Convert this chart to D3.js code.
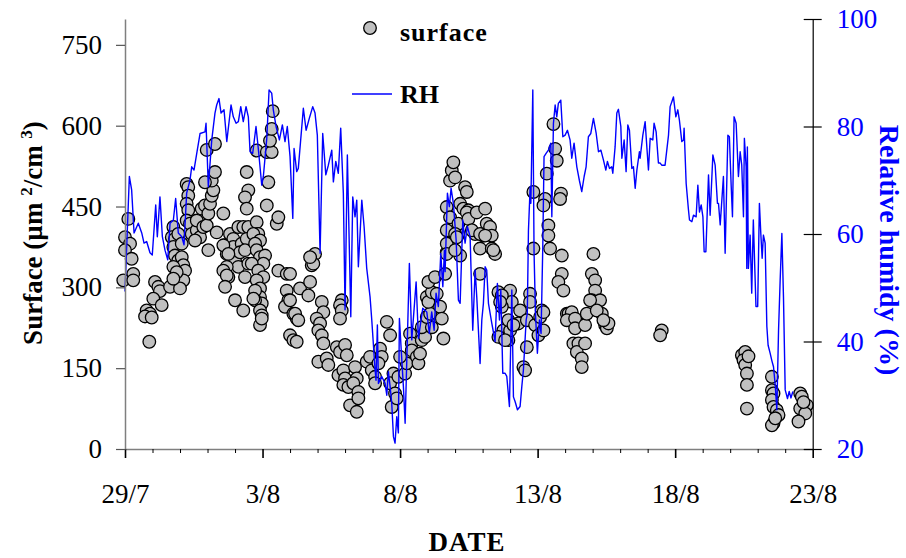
<!DOCTYPE html>
<html>
<head>
<meta charset="utf-8">
<script src="https://cdnjs.cloudflare.com/ajax/libs/d3/7.8.5/d3.min.js"></script>
<style>
  body { margin: 0; background: #fff; }
  svg { font-family: "Liberation Serif", "Times New Roman", serif; }
</style>
</head>
<body>
<svg width="906" height="558"></svg>
<script>
// hours after 29/7 00:00, surface area (um2/cm3)
var surfacePoints = [
  [2.9,427],[0,393],[4.4,381],[0,369],[5.8,353],[-1.5,313],[7.2,325],[7.2,313],
  [26.2,310],[29.1,301],[30.5,293],[24.7,279],[32.0,267],[18.9,257],[21.8,251],[17.5,246],[23.3,244],[21.2,199],
  [39.3,301],[42.2,412],[40.8,393],[43.6,390],[42.2,375],[46.5,399],[43.6,359],[46.5,350],[49.5,356],[50.9,341],
  [48.0,325],[52.4,331],[50.9,313],[48.0,298],[42.2,338],[45.1,328],[42.2,316],[49.5,381],
  [53.8,492],[55.2,486],[55.2,470],[53.8,455],[55.2,443],[53.8,424],[56.7,418],[58.2,399],[62.6,406],[65.5,393],
  [61.1,387],[62.6,424],[66.9,446],[69.8,452],[68.3,412],[71.3,415],[72.7,437],[74.2,455],[75.7,470],[77.1,480],
  [75.7,498],[69.8,495],[78.5,514],[71.3,555],[78.5,566],[80.0,402],[72.7,369],
  [85.8,437],[87.3,378],[88.8,362],[91.6,399],[94.5,390],[94.5,375],[93.1,356],[96.0,350],[98.9,412],[101.8,381],
  [100.4,365],[98.9,338],[103.2,412],[107.6,412],[106.2,390],[104.7,369],[107.6,344],[104.7,319],[88.8,338],
  [90.2,319],[85.8,331],[96.0,276],[103.2,257],[85.8,378],[90.2,362],[88.8,322],[87.3,301],
  [106.2,514],[107.6,480],[104.7,467],[106.2,446],
  [114.9,421],[116.3,399],[112.0,399],[117.8,387],[113.5,381],[114.9,369],[117.8,356],[122.2,359],[120.7,344],
  [110.6,344],[116.3,331],[120.7,319],[114.9,313],[117.8,298],[117.8,282],[119.3,270],[113.5,276],[117.8,257],
  [119.3,248],[117.8,230],[119.3,242],[113.5,294],[112.0,279],
  [123.7,452],[125.1,495],[114.9,554],[123.7,551],[128.0,551],[126.5,572],[128.0,594],[128.9,627],[132.4,418],[133.8,430],
  [133.8,331],[141.1,325],[141.1,294],[142.5,276],[139.6,264],[146.9,251],[149.8,242],[144.0,211],[146.9,202],
  [149.8,199],[152.7,298],
  [144.0,325],[144.0,276],[148.4,251],[151.2,239],[161.5,310],[160.0,285],[165.8,362],[162.9,341],[164.3,344],[161.5,356],
  [171.7,273],[173.1,254],[167.3,242],[170.2,233],[168.7,220],[171.7,211],[173.1,196],
  [189.1,276],[187.6,267],[189.1,257],[187.6,242],
  [168.7,162],[176.0,168],[177.4,156],[184.8,189],[187.6,180],[192.0,193],[193.5,174],[186.2,137],[190.5,146],
  [192.0,131],[190.5,119],[194.9,115],[196.4,81],
  [200.7,152],[202.2,131],[199.2,122],[203.6,106],[203.6,94],[202.2,69],
  [210.9,162],[213.8,171],[215.3,146],[218.2,134],[218.2,122],[222.5,186],[224.0,171],[221.1,159],
  [228.4,236],[231.3,211],[234.2,140],[231.3,122],[235.6,103],[232.7,78],[237.1,94],[238.5,134],[244.4,140],
  [245.8,159],[240.0,171],
  [248.7,214],[250.2,196],[250.2,183],[254.6,171],[256.0,159],[257.4,177],[258.9,202],[261.8,208],[258.9,226],
  [267.7,226],[263.3,245],[266.2,251],[263.3,282],[264.7,273],[267.7,291],[272.0,288],[264.7,310],[270.5,319],
  [274.9,264],[276.4,242],[277.8,205],[279.3,325],[280.7,365],[282.1,381],[290.9,399],[292.4,359],
  [280.7,449],[283.6,498],[285.1,517],[286.5,532],[288.0,504],[292.4,455],[296.7,486],[298.2,477],[295.2,446],
  [299.6,443],[283.6,430],[290.9,418],[280.7,406],[288.0,399],[280.7,381],[289.5,393],[280.7,362],[288.0,369],
  [298.2,439],[299.6,427],[306.9,439],[314.2,446],[315.6,418],[318.5,412],[312.7,396],[320.0,396],[305.5,399],
  [309.8,372],[320.0,372],[322.9,362],[309.8,325],
  [325.8,291],[336.0,294],[337.5,273],[328.8,264],[344.7,257],[353.4,288],[363.6,257],
  [356.3,372],[356.3,477],[366.5,464],[365.1,452],[368.0,511],[375.3,557],[376.7,535],[373.8,603],[380.4,474],
  [379.6,464],[369.4,415],[369.4,396],[370.9,372],[381.1,359],[381.1,325],[378.1,310],[382.5,294],[385.5,251],
  [408.7,362],[407.3,325],[410.2,313],[410.2,294],[407.3,276],[414.5,276],[416.0,251],
  [302.6,406],[309.8,399],[314.2,396],[321.4,369],[328.8,285],[327.3,273],[330.1,220],[330.1,205],[334.5,202],
  [336.0,220],[334.5,239],[343.2,233],[350.6,239],[353.4,273],[357.8,230],[360.7,211],[362.2,245],[365.1,254],
  [365.1,220],[350.6,189],[347.6,152],[349.1,146],[338.9,230],[325.8,208],[331.6,202],
  [387.0,251],[389.8,254],[385.5,239],[392.7,242],[392.7,224],[391.2,196],[395.6,196],[394.2,180],[398.5,168],
  [398.5,152],[401.4,196],[401.4,230],[402.9,251],[405.8,276],[411.6,257],[418.9,230],[420.4,224],[421.8,233],
  [417.4,239],
  [468.3,220],[466.9,211],
  [538.2,174],[541.1,180],[539.6,165],[541.1,156],[542.6,140],[542.6,119],[542.6,75],[544.0,172],
  [564.4,134],[564.4,109],[565.8,103],[564.4,91],[565.8,78],[568.7,72],[570.2,63],[565.8,48],[564.4,44],[567.3,57],
  [589.1,103],[590.5,97],[589.1,75],[594.9,81],[593.5,66],[587.6,51],[592.0,87]
];

// hours after 29/7 00:00, relative humidity (%)
var rhSeries = [
  [0,49.3],[3.8,70.7],[5.8,68.2],[7.9,60.2],[11.6,62.0],[14.6,60.2],[16.6,58.3],[18.9,58.6],[21.8,56.5],[23.8,56.1],
  [26.8,65.4],[28.2,59.5],[30.5,66.9],[32.6,59.5],[34.9,57.0],[37.3,55.2],[39.3,62.0],[42.2,62.6],[44.2,66.6],
  [46.5,60.2],[49.5,59.5],[51.5,58.0],[53.8,67.6],[56.7,70.0],[58.2,72.5],[60.2,71.9],[62.6,75.0],[65.5,78.7],
  [69.8,79.0],[70.7,80.6],[72.7,68.8],[75.7,77.5],[78.5,82.5],[80.0,84.0],[82.0,85.2],[83.8,82.5],[86.4,83.1],
  [88.8,77.2],[92.5,84.0],[94.5,81.8],[96.9,80.6],[98.9,80.9],[101.0,83.7],[103.2,80.9],[105.6,83.7],[107.6,81.8],
  [109.1,75.3],[111.4,75.0],[114.3,80.0],[116.3,75.9],[119.3,69.1],[120.7,70.7],[123.7,77.8],[125.7,86.8],
  [128.0,86.2],[129.4,83.1],[131.8,80.0],[134.7,77.5],[137.3,80.3],[139.6,77.2],[141.6,80.0],[144.0,74.4],
  [146.4,62.9],[147.5,75.9],[149.8,71.6],[151.2,72.2],[155.6,83.4],[158.0,79.3],[160.8,81.5],[163.8,83.7],
  [165.8,82.5],[167.8,78.4],[170.2,56.4],[172.5,78.7],[175.2,71.0],[177.4,72.8],[180.4,75.6],[181.8,69.7],
  [183.9,73.5],[186.1,71.3],[188.2,79.7],[190.5,67.6],[192.0,45.9],[194.0,74.7],[197.0,44.6],[198.7,66.9],
  [200.7,63.2],[202.2,66.3],[203.6,53.9],[206.6,66.3],[208.6,61.4],[210.9,53.6],[213.8,48.3],[215.3,44.0],
  [218.2,34.7],[219.0,32.8],[220.2,43.1],[221.1,32.2],[224.0,33.5],[226.9,32.2],[228.4,30.0],[229.8,34.4],
  [231.3,31.6],[232.7,28.6],[234.2,22.3],[235.6,21.1],[237.1,26.0],[238.5,23.0],[239.4,44.3],[241.5,36.6],
  [242.9,31.6],[244.4,24.8],[248.1,54.5],[250.2,40.3],[254.0,51.1],[256.0,40.6],[259.8,46.2],[263.3,45.5],
  [265.5,41.5],[267.6,45.5],[269.7,42.1],[271.4,49.0],[273.4,46.5],[275.5,56.4],[277.3,50.2],[278.7,57.0],
  [279.3,53.0],[281.3,67.6],[283.0,65.1],[284.5,68.5],[286.5,65.7],[288.9,58.9],[290.9,47.7],[292.4,47.1],
  [294.7,62.6],[296.7,58.3],[298.7,61.4],[301.1,59.5],[303.4,42.1],[305.5,53.3],[306.9,48.3],[309.8,35.9],
  [311.3,44.0],[312.7,47.1],[314.2,53.9],[315.6,53.3],[317.1,47.1],[320.0,43.4],[322.9,40.0],[324.9,50.8],
  [326.7,44.0],[327.9,49.6],[329.6,34.1],[331.6,34.1],[333.1,33.5],[335.4,27.9],[337.5,49.6],[338.9,29.7],
  [340.4,28.8],[342.4,27.3],[344.7,27.9],[346.2,31.6],[347.6,34.7],[350.0,44.0],[351.0,45.2],[352.0,60.7],
  [353.5,68.8],[354.1,65.7],[355.8,86.8],[356.9,56.5],[358.1,45.3],[359.8,37.8],[361.6,44.0],[363.0,41.5],
  [364.5,57.6],[365.6,74.4],[367.4,75.0],[369.4,75.6],[371.5,76.9],[372.4,63.2],[373.8,80.6],[375.3,84.0],
  [376.7,81.8],[378.1,84.3],[380.2,84.9],[382.0,78.1],[384.0,78.4],[386.0,79.3],[388.3,77.5],[389.8,74.1],
  [391.8,76.9],[394.2,72.5],[396.4,70.0],[398.5,67.9],[400.6,70.7],[402.3,72.5],[404.3,78.1],[406.4,78.7],
  [408.7,81.5],[411.1,78.7],[413.1,75.3],[415.2,75.6],[417.4,73.8],[419.5,71.9],[420.9,73.5],[422.7,72.2],
  [424.7,72.5],[425.6,71.3],[427.6,76.2],[429.1,82.5],[430.5,83.2],[432.6,80.0],[433.5,74.1],[435.5,77.5],
  [437.2,71.6],[438.7,80.3],[440.1,79.3],[442.2,72.2],[443.6,72.5],[445.1,68.5],[446.6,71.9],[448.8,75.3],
  [449.4,74.1],[451.8,78.4],[453.8,80.9],[455.3,76.2],[456.7,71.9],[458.2,77.8],[460.5,77.5],[461.6,80.6],
  [463.4,79.0],[465.4,73.2],[466.9,73.2],[468.3,72.8],[471.2,72.8],[474.2,78.4],[475.6,83.7],[477.1,84.6],
  [478.5,85.5],[480.6,81.8],[482.3,83.1],[483.7,81.2],[485.8,77.2],[487.3,77.5],[487.8,79.7],[489.6,69.4],
  [491.6,64.5],[492.5,62.6],[494.6,62.3],[496.0,63.5],[498.3,63.2],[499.8,69.1],[501.2,64.1],[502.7,65.4],
  [504.2,63.2],[505.3,56.7],[506.8,56.7],[509.1,71.0],[510.5,63.5],[512.9,74.7],[514.9,72.8],[516.9,65.7],
  [517.8,65.7],[519.3,61.7],[522.1,70.7],[523.6,56.4],[526.0,78.4],[527.3,78.1],[528.8,69.4],[530.0,63.2],
  [531.4,81.8],[533.2,80.6],[535.2,70.7],[536.7,75.3],[538.1,72.8],[539.6,63.2],[540.4,77.8],[541.9,72.5],
  [542.5,53.6],[543.0,76.2],[543.9,53.6],[545.4,59.8],[546.8,49.0],[548.2,62.6],[550.5,46.5],[552.0,46.5],
  [553.5,65.7],[554.7,60.2],[555.9,55.5],[557.0,59.8],[558.5,58.3],[560.0,42.8],[561.1,39.3],[562.9,37.8],
  [564.4,36.4],[565.8,35.3],[567.3,31.9],[568.7,27.3],[570.2,42.1],[571.6,51.4],[573.1,60.1],[574.5,48.3],
  [576.0,31.0],[578.0,29.4],[579.5,30.7],[581.0,29.5],[582.7,30.7]
];

var surfaceTicks = [0, 150, 300, 450, 600, 750];
var rhTicks = [20, 40, 60, 80, 100];
var labelEvery = 5; // days between labelled date ticks

var start = new Date(2001, 6, 29);
var end = new Date(2001, 7, 23);
function toDate(h) { return new Date(start.getTime() + h * 3600000); }

var svg = d3.select('svg');

var plotLeft = 125, plotRight = 812.7, plotTop = 19, plotBottom = 449;

var x = d3.scaleTime().domain([start, end]).range([plotLeft, plotRight]);
var yS = d3.scaleLinear().domain([0, 798]).range([plotBottom, plotTop]);
var yR = d3.scaleLinear().domain([20, 100]).range([plotBottom, plotTop]);

var fmt = d3.timeFormat('%-d/%-m');

// scatter first, line goes over it
svg.append('g')
  .selectAll('circle')
  .data(surfacePoints)
  .enter().append('circle')
  .attr('cx', function(d) { return x(toDate(d[0])); })
  .attr('cy', function(d) { return yS(d[1]); })
  .attr('r', 6.3)
  .attr('fill', '#c0c0c0')
  .attr('stroke', '#000')
  .attr('stroke-width', 1.3);

var line = d3.line()
  .x(function(d) { return x(toDate(d[0])); })
  .y(function(d) { return yR(d[1]); });

svg.append('path')
  .datum(rhSeries)
  .attr('d', line)
  .attr('fill', 'none')
  .attr('stroke', '#0000ff')
  .attr('stroke-width', 1.4)
  .attr('stroke-linejoin', 'round');

// x axis
var days = d3.timeDay.range(start, d3.timeDay.offset(end, 1));
var gx = svg.append('g')
  .attr('transform', 'translate(0,' + plotBottom + ')')
  .call(d3.axisBottom(x)
    .tickValues(days)
    .tickSize(4)
    .tickSizeOuter(0)
    .tickFormat(function(d, i) { return i % labelEvery == 0 ? fmt(d) : ''; }));
gx.select('.domain').attr('stroke', '#7f7f7f').attr('stroke-width', 1.5);
gx.selectAll('.tick line')
  .attr('stroke', '#000')
  .attr('stroke-width', function(d, i) { return i % labelEvery == 0 ? 1.6 : 1; })
  .attr('y2', function(d, i) { return i % labelEvery == 0 ? 9 : 4; });
gx.selectAll('.tick text')
  .attr('y', 54).attr('dy', 0)
  .attr('font-size', 27).attr('font-family', 'Liberation Serif').attr('fill', '#000');

// left axis
var gl = svg.append('g')
  .attr('transform', 'translate(' + plotLeft + ',0)')
  .call(d3.axisLeft(yS).tickValues(surfaceTicks).tickSize(9).tickSizeOuter(0).tickPadding(14));
gl.select('.domain').attr('stroke', '#7f7f7f').attr('stroke-width', 1.5);
gl.selectAll('.tick line').attr('stroke', '#555').attr('stroke-width', 1.2);
gl.selectAll('.tick text')
  .attr('font-size', 27).attr('font-family', 'Liberation Serif').attr('fill', '#000');

// right axis
var gr = svg.append('g')
  .attr('transform', 'translate(' + plotRight + ',0)')
  .call(d3.axisRight(yR).tickValues(rhTicks).tickSize(9).tickSizeOuter(0).tickPadding(15));
gr.select('.domain').attr('stroke', '#000').attr('stroke-width', 1.2);
gr.selectAll('.tick line').attr('x1', -9).attr('stroke', '#000').attr('stroke-width', 1.2);
gr.selectAll('.tick text')
  .attr('font-size', 27).attr('font-family', 'Liberation Serif').attr('fill', '#0000ff');

// titles
svg.append('text')
  .attr('transform', 'translate(42,233) rotate(-90)')
  .attr('text-anchor', 'middle')
  .attr('font-size', 27).attr('font-weight', 'bold')
  .html('Surface (µm <tspan font-size="17" dy="-10">2</tspan><tspan dy="10">/cm </tspan><tspan font-size="17" dy="-10">3</tspan><tspan dy="10">)</tspan>');

svg.append('text')
  .attr('transform', 'translate(880,250) rotate(90)')
  .attr('text-anchor', 'middle')
  .attr('font-size', 28).attr('font-weight', 'bold')
  .attr('fill', '#0000ff')
  .text('Relative humidy (%)');

svg.append('text')
  .attr('x', 467).attr('y', 551)
  .attr('text-anchor', 'middle')
  .attr('font-size', 27).attr('font-weight', 'bold')
  .attr('letter-spacing', 1)
  .text('DATE');

// legend
svg.append('circle')
  .attr('cx', 370).attr('cy', 28).attr('r', 6.3)
  .attr('fill', '#c0c0c0').attr('stroke', '#000').attr('stroke-width', 1.3);
svg.append('text')
  .attr('x', 400).attr('y', 41)
  .attr('font-size', 26).attr('font-weight', 'bold')
  .attr('letter-spacing', 1)
  .text('surface');
svg.append('line')
  .attr('x1', 352).attr('x2', 392).attr('y1', 94).attr('y2', 94)
  .attr('stroke', '#0000ff').attr('stroke-width', 1.4);
svg.append('text')
  .attr('x', 400).attr('y', 103)
  .attr('font-size', 26).attr('font-weight', 'bold')
  .text('RH');
</script>
</body>
</html>
